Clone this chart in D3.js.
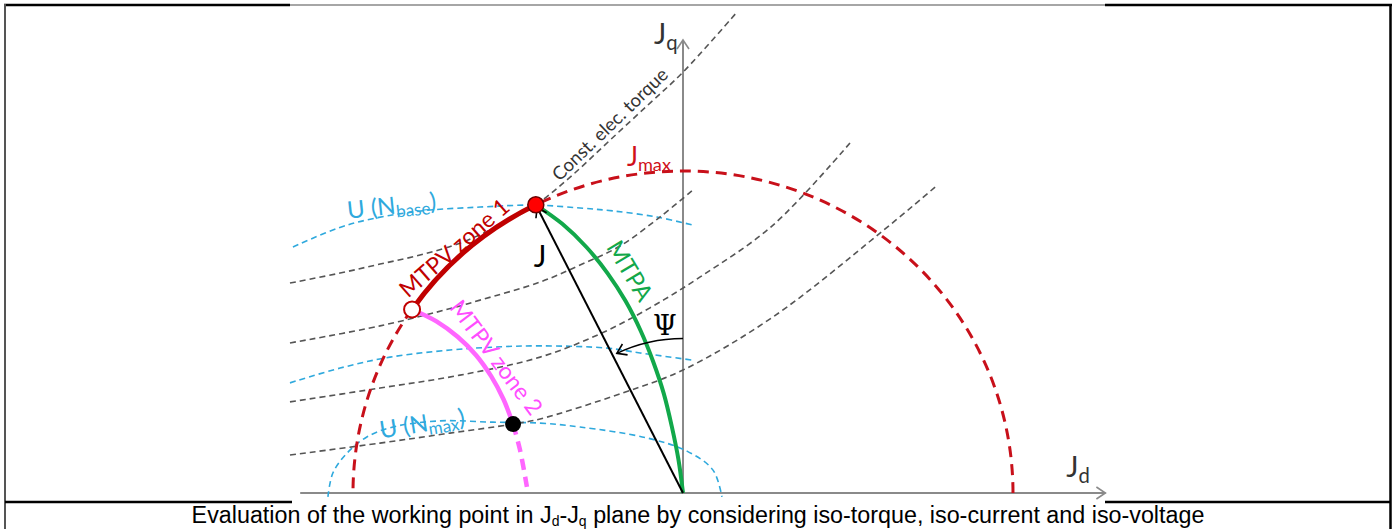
<!DOCTYPE html>
<html>
<head>
<meta charset="utf-8">
<script src="https://cdn.jsdelivr.net/npm/d3@7"></script>
<style>
  body { margin: 0; background: #fff; }
  text { font-family: Lato, "Open Sans", sans-serif; }
  .caption { font-family: "Liberation Sans", Arial, sans-serif; }
</style>
</head>
<body>
<div id="chart"></div>
<script>
// all values in % of Jmax (Jd, Jq)
var jmax = 100;
var axisD = [-116, 128];
var axisQ = [0, 140.7];

var mtpa = [[0, 0], [-1.4, 10.5], [-3.4, 20.7], [-5.8, 30.8], [-9.0, 40.7], [-12.8, 50.3],
  [-17.4, 59.6], [-22.9, 68.3], [-29.3, 76.4], [-36.6, 83.6], [-44.6, 89.5]];
var mtpv2 = [[-82.1, 57.0], [-74.7, 53.3], [-68.3, 48.5], [-62.7, 42.8], [-58.1, 36.2], [-54.4, 29.1], [-51.5, 21.4]];
var mtpv2Ext = [[-51.5, 21.4], [-49.4, 13.4], [-47.3, 1.9]];

var torque1 = [[-119.1, 65.2], [-103.9, 68.3], [-91.8, 71.1], [-79.7, 73.9], [-67.6, 77.6], [-55.5, 83.2],
  [-44.6, 89.5], [-34.2, 98.1], [-22.1, 109.6], [-10.0, 121.1], [0, 130.7], [16.4, 149.4]];
var torque2 = [[-119.1, 46.6], [-91.8, 51.9], [-69.7, 57.5], [-61.5, 59.9], [-43.3, 65.5], [-31.2, 70.8],
  [-19.1, 76.7], [-7.0, 85.7], [3.0, 94.1]];
var torque3 = [[-119.1, 28.3], [-91.8, 32.6], [-67.6, 36.6], [-43.3, 42.2], [-25.2, 49.4], [-10.0, 57.5],
  [5.2, 67.1], [27.3, 83.2], [50.6, 108.7]];
var torque4 = [[-119.1, 11.8], [-91.8, 15.5], [-70.6, 18.6], [-51.5, 21.4], [-43.3, 23.0], [-18.2, 31.1],
  [0, 38.2], [27.3, 54.7], [59.7, 80.7], [76.4, 95.0]];

var uBase = [[-118.2, 76.4], [-101.8, 83.2], [-81.8, 87.3], [-61.5, 88.8], [-44.8, 89.4], [-31.2, 88.5],
  [-21.2, 87.6], [-7.9, 85.7], [3.0, 83.2]];
var uMid = [[-119.1, 34.2], [-103.9, 38.8], [-88.8, 42.2], [-70.6, 44.4], [-57.6, 45.3], [-43.3, 45.7],
  [-23.0, 45.0], [-13.0, 43.5], [2.7, 41.3]];
var uMax = [[-107.6, -1.2], [-106.1, 6.2], [-101.8, 12.4], [-95.8, 17.4], [-87.9, 20.5], [-73.6, 22.4],
  [-57.6, 22.0], [-43.3, 21.7], [-31.2, 20.5], [-10.9, 17.1], [1.2, 13.0], [9.1, 7.1], [11.8, -1.2]];

var pBase = [-44.6, 89.5];     // red dot
var pCorner = [-82.1, 57.0];   // open dot
var pMax = [-51.5, 21.4];      // black dot
var psiR = 48;

var W = 1397, H = 529;

var svg = d3.select("#chart").append("svg")
  .attr("width", W).attr("height", H);

var xScale = d3.scaleLinear().domain([0, 100]).range([683, 1013]);
var yScale = d3.scaleLinear().domain([0, 100]).range([493, 171]);

var line = d3.line()
  .x(function(d) { return xScale(d[0]); })
  .y(function(d) { return yScale(d[1]); })
  .curve(d3.curveCatmullRom.alpha(0.5));

// frame
var frame = svg.append("g");
frame.append("line").attr("x1", 4).attr("x2", 290).attr("y1", 5).attr("y2", 5).attr("stroke", "#000").attr("stroke-width", 2.5);
frame.append("line").attr("x1", 1105).attr("x2", 1392).attr("y1", 5).attr("y2", 5).attr("stroke", "#000").attr("stroke-width", 2.5);
frame.append("line").attr("x1", 290).attr("x2", 1105).attr("y1", 5).attr("y2", 5).attr("stroke", "#888").attr("stroke-width", 1.5);
frame.append("line").attr("x1", 5).attr("x2", 5).attr("y1", 4).attr("y2", H).attr("stroke", "#555").attr("stroke-width", 2);
frame.append("line").attr("x1", 1390.5).attr("x2", 1390.5).attr("y1", 4).attr("y2", H).attr("stroke", "#000").attr("stroke-width", 2.5);
frame.append("line").attr("x1", 5).attr("x2", 292).attr("y1", 502).attr("y2", 502).attr("stroke", "#000").attr("stroke-width", 2.5);
frame.append("line").attr("x1", 1105).attr("x2", 1390).attr("y1", 502).attr("y2", 502).attr("stroke", "#000").attr("stroke-width", 2.5);

var defs = svg.append("defs");
function chevron(id, color) {
  defs.append("marker").attr("id", id)
    .attr("markerUnits", "userSpaceOnUse")
    .attr("viewBox", "-12 -8 14 16")
    .attr("markerWidth", 14).attr("markerHeight", 16)
    .attr("refX", 0).attr("refY", 0).attr("orient", "auto")
    .append("path").attr("d", "M-9,-6L0,0L-9,6")
    .attr("fill", "none").attr("stroke", color).attr("stroke-width", 1.6);
}
chevron("arrGray", "#8a8a8a");
chevron("arrBlack", "#000");

// axes
svg.append("line")
  .attr("x1", xScale(axisD[0])).attr("x2", xScale(axisD[1]))
  .attr("y1", yScale(0)).attr("y2", yScale(0))
  .attr("stroke", "#8a8a8a").attr("stroke-width", 2).attr("marker-end", "url(#arrGray)");
svg.append("line")
  .attr("x1", xScale(0)).attr("x2", xScale(0))
  .attr("y1", yScale(axisQ[0])).attr("y2", yScale(axisQ[1]))
  .attr("stroke", "#8a8a8a").attr("stroke-width", 2).attr("marker-end", "url(#arrGray)");

// iso-voltage
[uBase, uMid, uMax].forEach(function(c) {
  svg.append("path").attr("d", line(c))
    .attr("fill", "none").attr("stroke", "#2fa9dd").attr("stroke-width", 1.6)
    .attr("stroke-dasharray", "6,4");
});

// iso-torque
[torque1, torque2, torque3, torque4].forEach(function(c) {
  svg.append("path").attr("d", line(c))
    .attr("fill", "none").attr("stroke", "#555").attr("stroke-width", 1.6)
    .attr("stroke-dasharray", "6,4");
});

// Jmax circle
var rx = xScale(jmax) - xScale(0), ry = yScale(0) - yScale(jmax);
svg.append("path")
  .attr("d", "M" + xScale(jmax) + "," + yScale(0) + " A" + rx + "," + ry + " 0 0 0 " + xScale(-jmax) + "," + yScale(0))
  .attr("fill", "none").attr("stroke", "#c8101a").attr("stroke-width", 3)
  .attr("stroke-dasharray", "11,7");

// MTPV zone 1 along Jmax
svg.append("path")
  .attr("d", "M" + xScale(pCorner[0]) + "," + yScale(pCorner[1]) + " A" + rx + "," + ry + " 0 0 1 " + xScale(pBase[0]) + "," + yScale(pBase[1]))
  .attr("fill", "none").attr("stroke", "#c00000").attr("stroke-width", 5);

// MTPV zone 2
svg.append("path").attr("d", line(mtpv2))
  .attr("fill", "none").attr("stroke", "#ff66ff").attr("stroke-width", 4.5);
svg.append("path").attr("d", line(mtpv2Ext))
  .attr("fill", "none").attr("stroke", "#ff66ff").attr("stroke-width", 4.5)
  .attr("stroke-dasharray", "11,7");

// MTPA
svg.append("path").attr("d", line(mtpa))
  .attr("fill", "none").attr("stroke", "#12a84a").attr("stroke-width", 4);

// J vector
var ox = xScale(0), oy = yScale(0);
var bx = xScale(pBase[0]), by = yScale(pBase[1]);
var ang = Math.atan2(by - oy, bx - ox);
var len = Math.hypot(bx - ox, by - oy) - 3;
svg.append("line")
  .attr("x1", ox).attr("y1", oy)
  .attr("x2", ox + len * Math.cos(ang)).attr("y2", oy + len * Math.sin(ang))
  .attr("stroke", "#000").attr("stroke-width", 2).attr("marker-end", "url(#arrBlack)");

// psi angle
var pr = yScale(0) - yScale(psiR);
var pp = d3.path();
pp.arc(ox, oy, pr, -Math.PI / 2, ang + 0.03, true);
svg.append("path").attr("d", pp.toString())
  .attr("fill", "none").attr("stroke", "#000").attr("stroke-width", 1.5)
  .attr("marker-end", "url(#arrBlack)");

// points
svg.append("circle").attr("cx", bx).attr("cy", by).attr("r", 8)
  .attr("fill", "#ff0000").attr("stroke", "#6a0000").attr("stroke-width", 1.5);
svg.append("circle").attr("cx", xScale(pCorner[0])).attr("cy", yScale(pCorner[1])).attr("r", 8)
  .attr("fill", "#fff").attr("stroke", "#c00000").attr("stroke-width", 2);
svg.append("circle").attr("cx", xScale(pMax[0])).attr("cy", yScale(pMax[1])).attr("r", 8)
  .attr("fill", "#000");

// labels
function subLabel(x, y, main, sub, color, size) {
  var t = svg.append("text").attr("x", x).attr("y", y)
    .attr("fill", color).attr("font-size", size);
  t.append("tspan").text(main);
  t.append("tspan").attr("font-size", size * 0.7).attr("dy", size * 0.2).text(sub);
  return t;
}
subLabel(xScale(-8.8), yScale(139.5), "J", "q", "#333", 29);
subLabel(xScale(116.1), yScale(4.9), "J", "d", "#333", 29);
subLabel(xScale(-17), yScale(101.6), "J", "max", "#d0101a", 26);

function uLabel(d, q, sub, rot) {
  var x = xScale(d), y = yScale(q);
  var t = svg.append("text").attr("x", x).attr("y", y)
    .attr("fill", "#2fa9dd").attr("font-size", 24)
    .attr("transform", "rotate(" + rot + "," + x + "," + y + ")");
  t.append("tspan").text("U (N");
  t.append("tspan").attr("font-size", 17).attr("dy", 4).text(sub);
  t.append("tspan").attr("dy", -4).text(")");
}
uLabel(-101.5, 85.2, "base", -6);
uLabel(-91.5, 16.9, "max", -9);

function rotLabel(d, q, txt, color, size, rot) {
  var x = xScale(d), y = yScale(q);
  svg.append("text").attr("x", x).attr("y", y)
    .attr("fill", color).attr("font-size", size)
    .attr("transform", "rotate(" + rot + "," + x + "," + y + ")")
    .text(txt);
}
rotLabel(-83.3, 60.3, "MTPV zone 1", "#c00000", 23, -41);
rotLabel(-71.0, 57.5, "MTPV zone 2", "#ff4dff", 23, 53);
rotLabel(-23.4, 76.4, "MTPA", "#12a84a", 24, 59);
rotLabel(-37.4, 96.6, "Const. elec. torque", "#333", 18.5, -44);

svg.append("text").attr("x", xScale(-45.2)).attr("y", yScale(70.3))
  .attr("fill", "#000").attr("font-size", 30).text("J");
svg.append("text").attr("x", xScale(-5.5)).attr("y", yScale(49.0))
  .attr("text-anchor", "middle").attr("fill", "#000").attr("font-size", 27)
  .style("font-family", "'DejaVu Serif', serif").text("Ψ");

// caption
var cap = svg.append("text").attr("class", "caption")
  .attr("x", 698).attr("y", 523).attr("text-anchor", "middle")
  .attr("font-size", 23.3).attr("fill", "#000");
cap.append("tspan").text("Evaluation of the working point in J");
cap.append("tspan").attr("font-size", 14).attr("dy", 3).text("d");
cap.append("tspan").attr("dy", -3).text("-J");
cap.append("tspan").attr("font-size", 14).attr("dy", 3).text("q");
cap.append("tspan").attr("dy", -3).text(" plane by considering iso-torque, iso-current and iso-voltage");
</script>
</body>
</html>
